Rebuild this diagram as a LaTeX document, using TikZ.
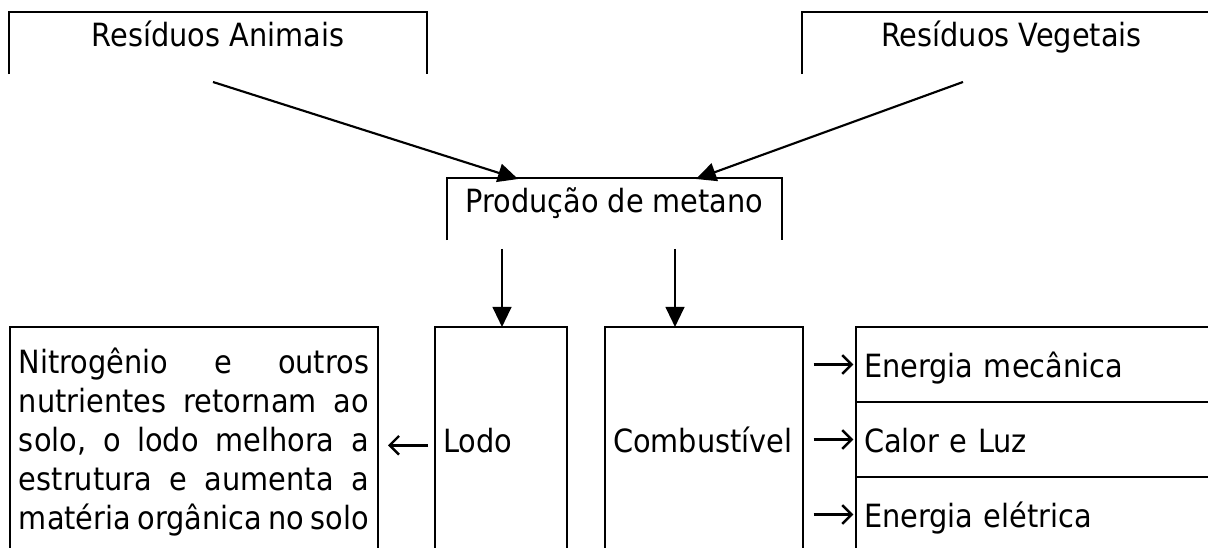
\documentclass[tikz,border=0pt]{standalone}
\usepackage{fontspec}
\setmainfont{DejaVu Sans Condensed}
\usetikzlibrary{arrows.meta,positioning}

\begin{document}
\begin{tikzpicture}[x=0.375pt,y=-0.375pt,line width=0.8pt,
    font=\fontsize{12}{14.7}\selectfont,
    openbox/.style={inner sep=0pt,minimum height=22.5pt,text height=6pt,text depth=3pt},
    cell/.style={draw,anchor=north west,inner sep=0pt,outer sep=0pt,inner xsep=3pt,align=left,
      text height=9.5pt,text depth=0pt},
    flow/.style={-{Triangle[length=7.5pt,width=7pt]}},
    glyph/.style={-{Straight Barb[length=3.5pt,width=7pt]},line width=0.9pt}]
  \useasboundingbox (0,0) rectangle (1208,548);

  % sources
  \node[openbox,minimum width=156pt] (anim) at (218,43) {Resíduos Animais};
  \node[openbox,minimum width=156.4pt] (veg) at (1011.5,43) {Resíduos Vegetais};
  \draw (anim.south west) |- (anim.north east) -- (anim.south east);
  \draw (veg.south west) |- (veg.north east) -- (veg.south east);

  % methane
  \node[openbox,minimum width=124.9pt] (prod) at (614.5,209) {Produção de metano};
  \draw (prod.south west) |- (prod.north east) -- (prod.south east);

  \coordinate (animout) at (213,82);
  \coordinate (vegout) at (963,82);
  \coordinate (prodin1) at (518,179);
  \coordinate (prodin2) at (696,179);
  \draw[flow] (animout) -- (prodin1);
  \draw[flow] (vegout) -- (prodin2);

  % products
  \node[draw,anchor=north west,outer sep=0pt,inner xsep=3.375pt,inner ysep=7pt,text width=131.25pt,align=left]
    (nitro) at (10,327) {\strut Nitrogênio\hfill e\hfill outros\\
    nutrientes\hfill retornam\hfill ao\\
    solo,\hfill o\hfill lodo\hfill melhora\hfill a\\
    estrutura\hfill e\hfill aumenta\hfill a\\
    matéria\hfill orgânica\hfill no\hfill solo};
  \node[cell,minimum width=49.5pt,minimum height=84.75pt,text width=43.5pt] (lodo) at (435,327) {Lodo};
  \node[cell,minimum width=74.25pt,minimum height=84.75pt,text width=68.25pt] (comb) at (605,327) {Combustível};
  \node[cell,minimum width=168.75pt,minimum height=28.125pt,text width=162.75pt] (emec) at (856,327) {Energia mecânica};
  \node[cell,minimum width=168.75pt,minimum height=28.125pt,text width=162.75pt,below=0pt of emec] (calor) {Calor e Luz};
  \node[cell,minimum width=168.75pt,minimum height=28.125pt,text width=162.75pt,below=0pt of calor] (eletr) {Energia elétrica};

  \coordinate (prodout1) at (502,249);
  \coordinate (prodout2) at (675,249);
  \draw[flow] (prodout1) -- (prodout1 |- lodo.north);
  \draw[flow] (prodout2) -- (prodout2 |- comb.north);

  \coordinate (lodoleft) at ([yshift=-2pt]lodo.west);
  \draw[glyph,shorten <=2.6pt,shorten >=3.75pt] (lodoleft) -- (lodoleft -| nitro.east);
  \foreach \e in {emec,calor,eletr}
    \draw[glyph,shorten <=4pt,shorten >=1pt] (comb.east |- \e.west) -- (\e.west);
\end{tikzpicture}
\end{document}
